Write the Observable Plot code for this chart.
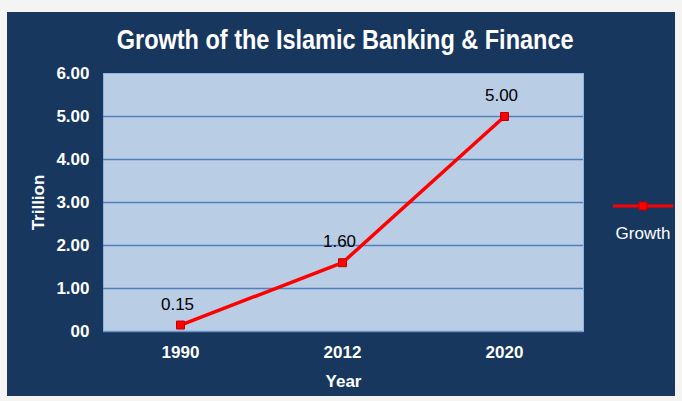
<!DOCTYPE html>
<html>
<head>
<meta charset="utf-8">
<script src="https://cdn.jsdelivr.net/npm/d3@7"></script>
<script src="https://cdn.jsdelivr.net/npm/@observablehq/plot@0.6"></script>
<style>
  html, body { margin: 0; padding: 0; background: #f4f4f4; }
  #wrap { position: relative; width: 682px; height: 401px; overflow: hidden; }
  #panel { position: absolute; left: 7px; top: 12px; width: 668px; height: 384px; background: #17375E; }
  #title { position: absolute; left: 7px; top: 25px; width: 676px; text-align: center; color: #fff;
           font: bold 27px "Liberation Sans", Arial, sans-serif; transform: scaleX(0.87); transform-origin: 339px 0; }
  #chart { position: absolute; left: 0; top: 0; }
  #legend { position: absolute; left: 608px; top: 196px; width: 70px; }
  #legend span { display: block; color: #fff; font: 17px "Liberation Sans", Arial, sans-serif; text-align: center; margin-top: 4px; }
</style>
</head>
<body>
<div id="wrap">
  <div id="panel"></div>
  <div id="title">Growth of the Islamic Banking &amp; Finance</div>
  <div id="chart"></div>
  <div id="legend">
    <svg width="70" height="20"><line x1="5" x2="65" y1="10" y2="10" stroke="#FF0000" stroke-width="3"/><rect x="31" y="6" width="8" height="8" fill="#FF0000" stroke="#C00000" stroke-width="1"/></svg>
    <span>Growth</span>
  </div>
</div>
<script>
const years = ["1990", "2012", "2020"];
const growth = [0.15, 1.60, 5.00];
const yTicks = [0, 1, 2, 3, 4, 5, 6];
const gridTicks = [1, 2, 3, 4, 5];
const seriesName = "Growth";

const data = years.map((y, i) => ({year: y, value: growth[i]}));

const chart = Plot.plot({
  width: 682,
  height: 401,
  marginLeft: 103,
  marginRight: 99,
  marginTop: 73,
  marginBottom: 70,
  style: {background: "transparent", color: "#fff", fontFamily: "'Liberation Sans', Arial, sans-serif", fontSize: "17px", fontWeight: "bold"},
  x: {type: "point", domain: years, padding: 0.47, insetRight: 3},
  y: {domain: [0, 6]},
  marks: [
    Plot.frame({fill: "#B9CDE5", stroke: "#8EB4E3"}),
    Plot.ruleY(gridTicks, {stroke: "#4F81BD", strokeWidth: 1.5}),
    Plot.ruleY([0], {stroke: "#6A94C8", strokeWidth: 1.5}),
    Plot.axisX({label: "Year", labelAnchor: "center", labelOffset: 55, labelArrow: "none", tickSize: 0, tickPadding: 14}),
    Plot.axisY({ticks: yTicks, tickFormat: d => d === 0 ? "00" : d.toFixed(2), label: "Trillion", labelAnchor: "center", labelOffset: 72, labelArrow: "none", tickSize: 0, tickPadding: 14}),
    Plot.line(data, {x: "year", y: "value", stroke: "#FF0000", strokeWidth: 3.5}),
    Plot.dot(data, {x: "year", y: "value", symbol: "square", r: 4.5, fill: "#FF0000", stroke: "#C00000", strokeWidth: 1}),
    Plot.text(data, {x: "year", y: "value", text: d => d.value.toFixed(2), dy: -21, dx: -3, fill: "#000", fontWeight: "normal", fontSize: 17})
  ]
});
document.getElementById("chart").appendChild(chart);
</script>
</body>
</html>
